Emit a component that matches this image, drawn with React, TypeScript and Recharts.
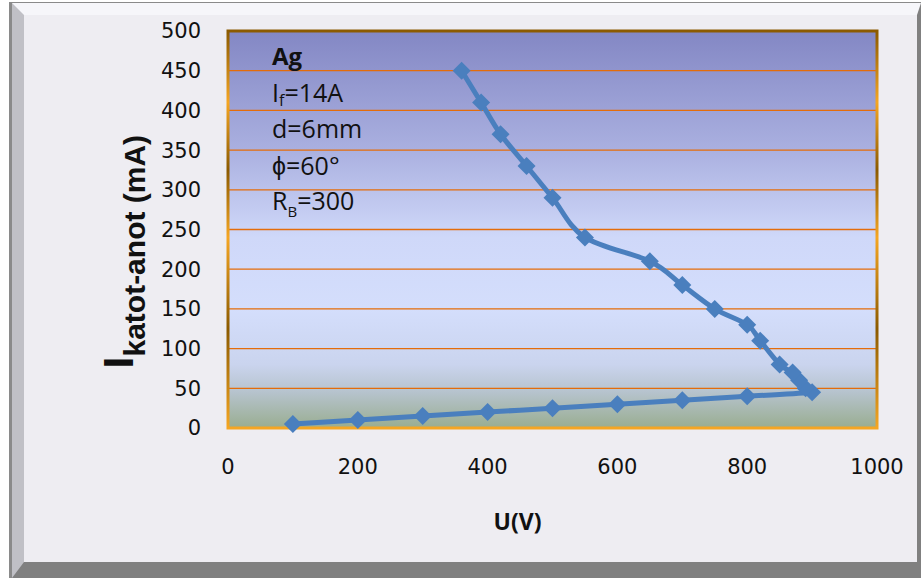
import React from "react";
import { LineChart, Line, XAxis, YAxis, CartesianGrid, ReferenceArea } from "recharts";

// U (V) and cathode-anode current (mA), in the order the curve is drawn
const uVolts = [100, 200, 300, 400, 500, 600, 700, 800, 900, 890, 880, 870, 850, 820, 800, 750, 700, 650, 550, 500, 460, 420, 390, 360];
const iMilliamps = [5, 10, 15, 20, 25, 30, 35, 40, 45, 50, 60, 70, 80, 110, 130, 150, 180, 210, 240, 290, 330, 370, 410, 450];

const xTicks = [0, 200, 400, 600, 800, 1000];
const yTicks = [0, 50, 100, 150, 200, 250, 300, 350, 400, 450, 500];

const rows = uVolts.map((u, k) => ({ u, i: iMilliamps[k] }));

const BLUE = "#4a7fbe";

// smooth line through the points (like Excel's smoothed line)
function catmullRom(context: any) {
  let pts: number[][] = [];
  return {
    areaStart() {},
    areaEnd() {},
    lineStart() {
      pts = [];
    },
    point(x: number, y: number) {
      pts.push([+x, +y]);
    },
    lineEnd() {
      if (!pts.length) return;
      context.moveTo(pts[0][0], pts[0][1]);
      for (let k = 0; k < pts.length - 1; k++) {
        const p0 = pts[k - 1] || pts[k];
        const p1 = pts[k];
        const p2 = pts[k + 1];
        const p3 = pts[k + 2] || p2;
        const t = 1 / 6;
        context.bezierCurveTo(
          p1[0] + (p2[0] - p0[0]) * t,
          p1[1] + (p2[1] - p0[1]) * t,
          p2[0] - (p3[0] - p1[0]) * t,
          p2[1] - (p3[1] - p1[1]) * t,
          p2[0],
          p2[1]
        );
      }
    },
  };
}

const Diamond = (props: any) => {
  const { cx, cy } = props;
  if (cx == null || cy == null) return null;
  const r = 9;
  return <polygon points={`${cx},${cy - r} ${cx + r},${cy} ${cx},${cy + r} ${cx - r},${cy}`} fill={BLUE} />;
};

const YTitle = (props: any) => {
  const vb = props.viewBox;
  const x = vb.x + 133;
  const y = vb.y + vb.height / 2 + 139;
  return (
    <text transform={`translate(${x},${y}) rotate(-90)`} fontFamily="Liberation Sans, Arial, sans-serif" fontWeight="bold" fill="#111">
      <tspan fontSize={43}>I</tspan>
      <tspan fontSize={30} dy={12}>katot-anot (mA)</tspan>
    </text>
  );
};

const XTitle = (props: any) => {
  const vb = props.viewBox;
  return (
    <text x={vb.x + vb.width / 2 - 35} y={vb.y + 102} textAnchor="middle" fontFamily="Open Sans, sans-serif" fontWeight="bold" fontSize={23} fill="#111">
      U(V)
    </text>
  );
};

const noteFont = "Open Sans, sans-serif";

export default function App() {
  return (
    <div style={{ position: "absolute", left: 0, top: 0, width: 924, height: 581, background: "#fff" }}>
      <div style={{ position: "absolute", left: 9, top: 2, width: 912, height: 576, background: "#8a8a8a" }}>
        <div
          style={{
            position: "absolute",
            left: 3,
            top: 1,
            right: 0,
            bottom: 0,
            boxSizing: "border-box",
            borderTop: "12px solid #f6f6fa",
            borderLeft: "12px solid #c0c0c6",
            borderRight: "4px solid #808080",
            borderBottom: "16px solid #808080",
            background: "#eeedf2",
          }}
        />
      </div>
      <div style={{ position: "absolute", left: 0, top: 0 }}>
        <LineChart width={924} height={581} data={rows} margin={{ top: 31, right: 47, bottom: 0, left: 0 }}>
          <defs>
            <linearGradient id="plotBg" x1="0" y1="0" x2="0" y2="1">
              <stop offset="0%" stopColor="#8387c4" />
              <stop offset="30%" stopColor="#aab0e0" />
              <stop offset="52%" stopColor="#cfd8f9" />
              <stop offset="70%" stopColor="#d4defc" />
              <stop offset="84%" stopColor="#cad4ee" />
              <stop offset="91%" stopColor="#b6c3cd" />
              <stop offset="100%" stopColor="#99ad90" />
            </linearGradient>
            <linearGradient id="frameGrad" x1="0" y1="0" x2="0" y2="1">
              <stop offset="0%" stopColor="#8b5a00" />
              <stop offset="18%" stopColor="#f5a623" />
              <stop offset="35%" stopColor="#8b5a00" />
              <stop offset="52%" stopColor="#f5a623" />
              <stop offset="75%" stopColor="#8b5a00" />
              <stop offset="100%" stopColor="#f5a623" />
            </linearGradient>
          </defs>
          <CartesianGrid vertical={false} stroke="#e46c0a" strokeWidth={1.3} fill="url(#plotBg)" fillOpacity={1} horizontalValues={yTicks} />
          <XAxis
            type="number"
            dataKey="u"
            domain={[0, 1000]}
            ticks={xTicks}
            height={153}
            axisLine={false}
            tickLine={false}
            tickSize={0}
            tickMargin={31}
            tick={{ fill: "#111", fontSize: 21, fontFamily: "DejaVu Sans, sans-serif" }}
            label={<XTitle />}
          />
          <YAxis
            type="number"
            dataKey="i"
            domain={[0, 500]}
            ticks={yTicks}
            width={228}
            axisLine={false}
            tickLine={false}
            tickSize={0}
            tickMargin={27}
            tick={{ fill: "#111", fontSize: 21, fontFamily: "DejaVu Sans, sans-serif" }}
            label={<YTitle />}
          />
          <ReferenceArea x1={0} x2={1000} y1={0} y2={500} fill="none" stroke="url(#frameGrad)" strokeWidth={3} ifOverflow="visible" />
          <Line
            dataKey="i"
            type={catmullRom as any}
            stroke={BLUE}
            strokeWidth={5}
            dot={<Diamond />}
            activeDot={false}
            isAnimationActive={false}
          />
          <g fontFamily={noteFont} fill="#111">
            <text x={272} y={65} fontSize={24} fontWeight="bold">Ag</text>
            <text x={272} y={102} fontSize={25}>
              I<tspan fontSize={16} dy={4}>f</tspan>
              <tspan dy={-4}>=14A</tspan>
            </text>
            <text x={272} y={138} fontSize={25}>d=6mm</text>
            <text x={272} y={175} fontSize={25}>ϕ=60°</text>
            <text x={272} y={210} fontSize={25}>
              R<tspan fontSize={15} dy={7}>B</tspan>
              <tspan dy={-7}>=300</tspan>
            </text>
          </g>
        </LineChart>
      </div>
    </div>
  );
}
